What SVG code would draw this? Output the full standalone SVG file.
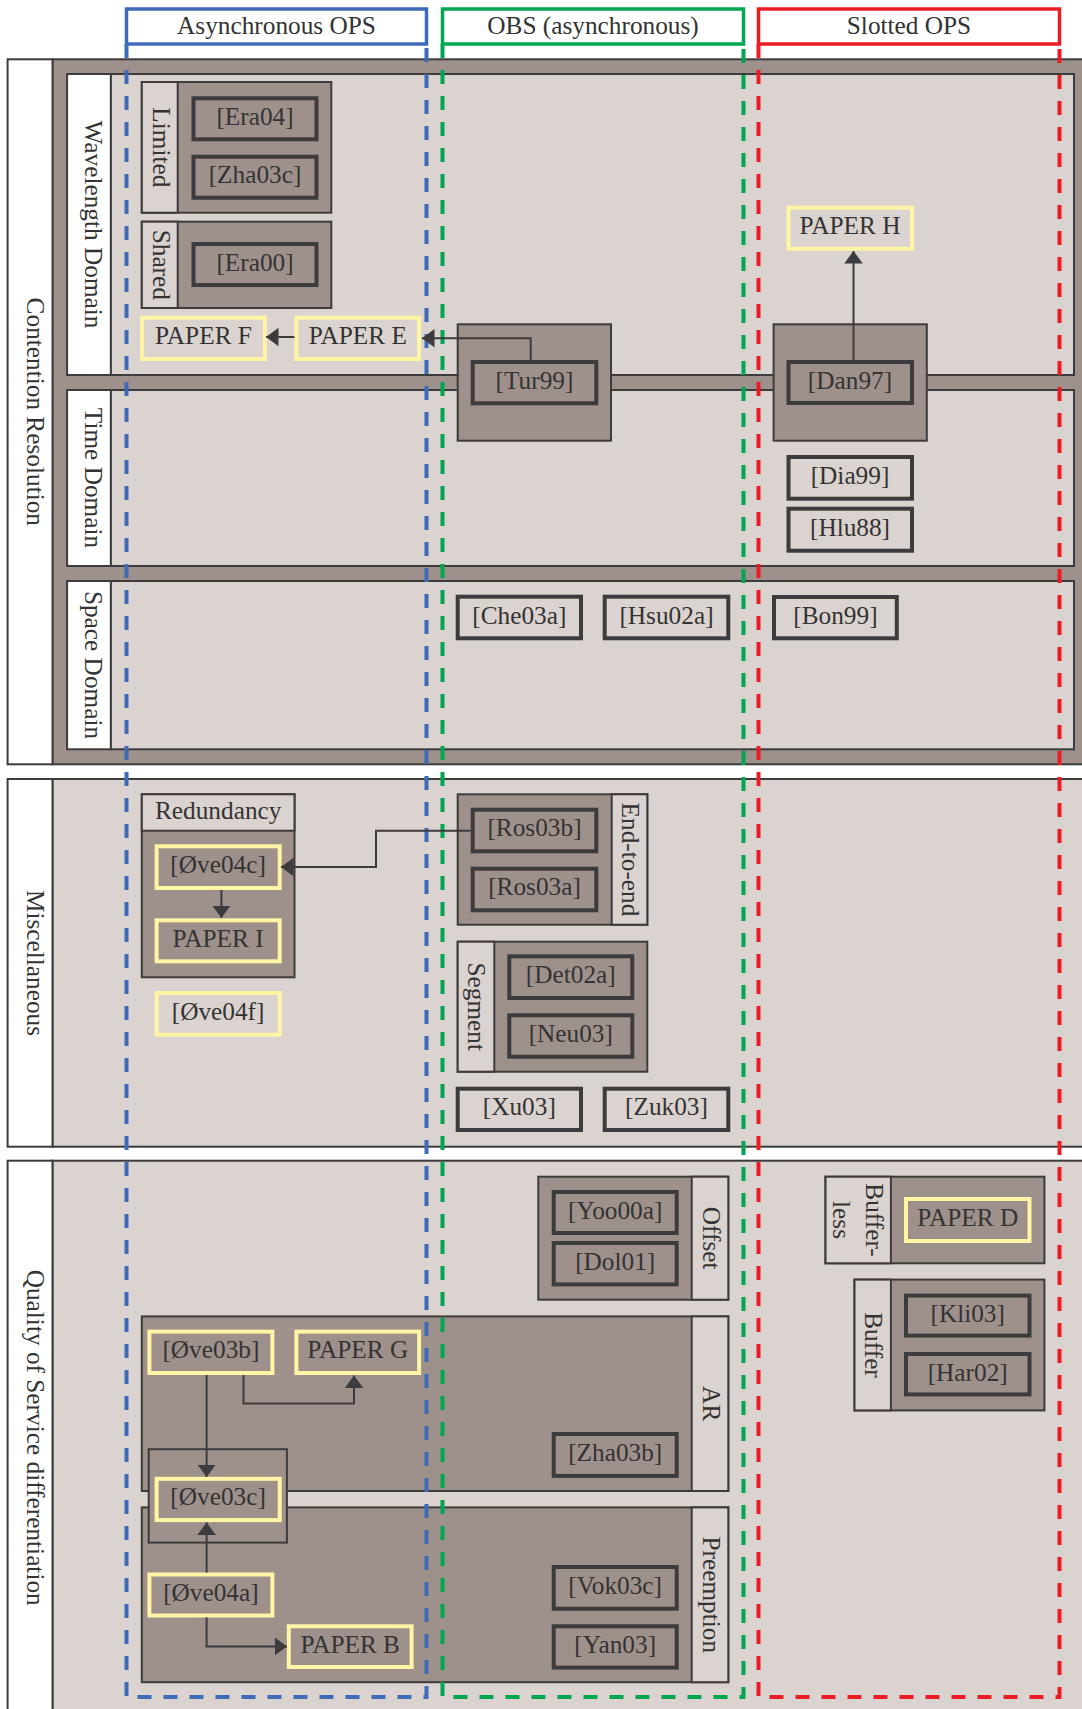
<svg xmlns="http://www.w3.org/2000/svg" width="1082" height="1709" viewBox="0 0 1082 1709">
  <defs>
    <style>
      .t{font-family:"Liberation Serif","Times New Roman",serif;font-size:25.3px;fill:#333;text-anchor:middle}
      .dark{fill:#9e918c;stroke:#3c3b3d;stroke-width:2}
      .pale{fill:#dbd3d0;stroke:#3c3b3d;stroke-width:2}
      .white{fill:#fff;stroke:#3c3b3d;stroke-width:2}
      .ref-d{fill:#9e918c;stroke:#3c3b3d;stroke-width:4}
      .ref-l{fill:#dbd3d0;stroke:#3c3b3d;stroke-width:4}
      .pap-d{fill:#9e918c;stroke:#fff5a5;stroke-width:4}
      .pap-l{fill:#dbd3d0;stroke:#fff5a5;stroke-width:4}
      .conn{fill:none;stroke:#3c3b3d;stroke-width:2;marker-end:url(#ah)}
      .col{fill:none;stroke-width:4;stroke-dasharray:14 12}
      .hdr{fill:#fff;stroke-width:3.5}
    </style>
    <marker id="ah" markerUnits="userSpaceOnUse" markerWidth="13" markerHeight="19" refX="12.5" refY="9.25" orient="auto">
      <path d="M0,0 L12.5,9.25 L0,18.5 z" fill="#3c3b3d"/>
    </marker>
  </defs>
  <rect width="1082" height="1709" fill="#fff"/>

  <!-- Contention Resolution band -->
  <g id="contention-resolution">
    <rect class="white" x="7.6" y="59.3" width="45.1" height="705"/>
    <rect class="dark" x="52.7" y="59.3" width="1040" height="705"/>
    <text class="t" transform="translate(35.5,411.8) rotate(90)" dy="0.35em">Contention Resolution</text>
  </g>
  <g id="wavelength-domain">
    <rect class="white" x="67.1" y="74" width="43.8" height="301"/>
    <rect class="pale" x="110.9" y="74" width="963.1" height="301"/>
    <text class="t" transform="translate(94,224.5) rotate(90)" dy="0.35em">Wavelength Domain</text>
  </g>
  <g id="time-domain">
    <rect class="white" x="67.1" y="390" width="43.8" height="176"/>
    <rect class="pale" x="110.9" y="390" width="963.1" height="176"/>
    <text class="t" transform="translate(94,478) rotate(90)" dy="0.35em">Time Domain</text>
  </g>
  <g id="space-domain">
    <rect class="white" x="67.1" y="581" width="43.8" height="168.3"/>
    <rect class="pale" x="110.9" y="581" width="963.1" height="168.3"/>
    <text class="t" transform="translate(94,665) rotate(90)" dy="0.35em">Space Domain</text>
  </g>

  <!-- Miscellaneous band -->
  <g id="miscellaneous">
    <rect class="white" x="7.6" y="779" width="45.1" height="367.7"/>
    <rect class="pale" x="52.7" y="779" width="1040" height="367.7"/>
    <text class="t" transform="translate(35.5,963) rotate(90)" dy="0.35em">Miscellaneous</text>
  </g>

  <!-- Quality of Service band -->
  <g id="qos-differentiation">
    <rect class="white" x="7.6" y="1160.7" width="45.1" height="560"/>
    <rect class="pale" x="52.7" y="1160.7" width="1040" height="560"/>
    <text class="t" transform="translate(35.5,1437.7) rotate(90)" dy="0.35em">Quality of Service differentiation</text>
  </g>

  <!-- Wavelength domain groups -->
  <g id="limited">
    <rect class="dark" x="141.8" y="82" width="189.5" height="130.7"/>
    <rect class="pale" x="141.8" y="82" width="35.9" height="130.7"/>
    <text class="t" transform="translate(161.5,147.3) rotate(90)" dy="0.35em">Limited</text>
  </g>
  <g id="shared">
    <rect class="dark" x="141.8" y="221.7" width="189.5" height="86.3"/>
    <rect class="pale" x="141.8" y="221.7" width="35.9" height="86.3"/>
    <text class="t" transform="translate(161.5,264.8) rotate(90)" dy="0.35em">Shared</text>
  </g>
  <g id="era04"><rect class="ref-d" x="193.5" y="98.3" width="123" height="41"/><text class="t" x="255" y="124.8">[Era04]</text></g>
  <g id="zha03c"><rect class="ref-d" x="193.5" y="156.7" width="123" height="41"/><text class="t" x="255" y="183.2">[Zha03c]</text></g>
  <g id="era00"><rect class="ref-d" x="193.5" y="244" width="123" height="41"/><text class="t" x="255" y="270.5">[Era00]</text></g>
  <g id="paper-f"><rect class="pap-l" x="142.2" y="317.7" width="122.7" height="41.3"/><text class="t" x="203.5" y="343.5">PAPER F</text></g>
  <g id="paper-e"><rect class="pap-l" x="296.4" y="317.7" width="122.7" height="41.3"/><text class="t" x="357.8" y="343.5">PAPER E</text></g>
  <g id="paper-h"><rect class="pap-l" x="788.5" y="207.7" width="123.5" height="41"/><text class="t" x="850" y="233.5">PAPER H</text></g>

  <g id="tur99">
    <rect class="dark" x="457.7" y="324.3" width="153.3" height="116.4"/>
    <rect class="ref-d" x="472.7" y="362" width="123.6" height="41.3"/>
    <text class="t" x="534.5" y="388.5">[Tur99]</text>
  </g>
  <g id="dan97">
    <rect class="dark" x="773.6" y="324.3" width="153.2" height="116.4"/>
    <rect class="ref-d" x="788.5" y="362" width="123.5" height="41"/>
    <text class="t" x="850" y="388.5">[Dan97]</text>
  </g>

  <!-- Time and space domain references -->
  <g id="dia99"><rect class="ref-l" x="788.5" y="457" width="123.5" height="41.7"/><text class="t" x="850" y="483.5">[Dia99]</text></g>
  <g id="hlu88"><rect class="ref-l" x="788.5" y="508.7" width="123.5" height="42"/><text class="t" x="850" y="535.5">[Hlu88]</text></g>
  <g id="che03a"><rect class="ref-l" x="457.7" y="596.7" width="123.3" height="41.6"/><text class="t" x="519.3" y="623.5">[Che03a]</text></g>
  <g id="hsu02a"><rect class="ref-l" x="604.7" y="596.7" width="123.6" height="41.6"/><text class="t" x="666.5" y="623.5">[Hsu02a]</text></g>
  <g id="bon99"><rect class="ref-l" x="774" y="597" width="122.8" height="41.3"/><text class="t" x="835.4" y="623.5">[Bon99]</text></g>

  <!-- Miscellaneous groups -->
  <g id="redundancy">
    <rect class="dark" x="141.8" y="794.3" width="152.7" height="183"/>
    <rect class="pale" x="141.8" y="794.3" width="152.7" height="36.4"/>
    <text class="t" x="218.2" y="819">Redundancy</text>
  </g>
  <g id="ove04c"><rect class="pap-d" x="156.6" y="846.3" width="123.1" height="41.7"/><text class="t" x="218.1" y="872.8">[Øve04c]</text></g>
  <g id="paper-i"><rect class="pap-d" x="156.6" y="920.3" width="123.1" height="41"/><text class="t" x="218.1" y="946.8">PAPER I</text></g>
  <g id="ove04f"><rect class="pap-l" x="156.6" y="993" width="123.1" height="41.7"/><text class="t" x="218.1" y="1019.5">[Øve04f]</text></g>

  <g id="end-to-end">
    <rect class="dark" x="457.7" y="794.3" width="189.6" height="130.4"/>
    <rect class="pale" x="611.7" y="794.3" width="35.6" height="130.4"/>
    <text class="t" transform="translate(631,859.5) rotate(90)" dy="0.35em">End-to-end</text>
  </g>
  <g id="ros03b"><rect class="ref-d" x="472.7" y="809.7" width="123.6" height="41.6"/><text class="t" x="534.5" y="836.2">[Ros03b]</text></g>
  <g id="ros03a"><rect class="ref-d" x="472.7" y="868.7" width="123.6" height="41.6"/><text class="t" x="534.5" y="895.2">[Ros03a]</text></g>

  <g id="segment">
    <rect class="dark" x="457.7" y="941.7" width="189.6" height="130"/>
    <rect class="pale" x="457.7" y="941.7" width="36.6" height="130"/>
    <text class="t" transform="translate(477,1006.7) rotate(90)" dy="0.35em">Segment</text>
  </g>
  <g id="det02a"><rect class="ref-d" x="509.3" y="956.3" width="123" height="41.7"/><text class="t" x="570.8" y="982.8">[Det02a]</text></g>
  <g id="neu03"><rect class="ref-d" x="509.3" y="1015.3" width="123" height="41.4"/><text class="t" x="570.8" y="1041.8">[Neu03]</text></g>
  <g id="xu03"><rect class="ref-l" x="457.7" y="1088.7" width="123.3" height="41.3"/><text class="t" x="519.3" y="1115.2">[Xu03]</text></g>
  <g id="zuk03"><rect class="ref-l" x="604.7" y="1088.7" width="123.6" height="41.3"/><text class="t" x="666.5" y="1115.2">[Zuk03]</text></g>

  <!-- QoS groups -->
  <g id="offset">
    <rect class="dark" x="538.3" y="1176.7" width="190" height="123"/>
    <rect class="pale" x="691.7" y="1176.7" width="36.6" height="123"/>
    <text class="t" transform="translate(711.5,1238.2) rotate(90)" dy="0.35em">Offset</text>
  </g>
  <g id="yoo00a"><rect class="ref-d" x="553.7" y="1192" width="123" height="41"/><text class="t" x="615.2" y="1218.5">[Yoo00a]</text></g>
  <g id="dol01"><rect class="ref-d" x="553.7" y="1243" width="123" height="41.4"/><text class="t" x="615.2" y="1269.5">[Dol01]</text></g>

  <g id="ar">
    <rect class="dark" x="141.8" y="1316.4" width="586.5" height="174.6"/>
    <rect class="pale" x="691.7" y="1316.4" width="36.6" height="174.6"/>
    <text class="t" transform="translate(711.5,1403.7) rotate(90)" dy="0.35em">AR</text>
  </g>
  <g id="preemption">
    <rect class="dark" x="141.8" y="1507.4" width="586.5" height="174.8"/>
    <rect class="pale" x="691.7" y="1507.4" width="36.6" height="174.8"/>
    <text class="t" transform="translate(711.5,1594.8) rotate(90)" dy="0.35em">Preemption</text>
  </g>
  <g id="zha03b"><rect class="ref-d" x="553.7" y="1434" width="123" height="41.9"/><text class="t" x="615.2" y="1460.5">[Zha03b]</text></g>
  <g id="vok03c"><rect class="ref-d" x="553.7" y="1567" width="123" height="41.7"/><text class="t" x="615.2" y="1593.5">[Vok03c]</text></g>
  <g id="yan03"><rect class="ref-d" x="553.7" y="1626.3" width="123" height="41.3"/><text class="t" x="615.2" y="1652.8">[Yan03]</text></g>

  <g id="ove03b"><rect class="pap-d" x="149.4" y="1331.6" width="123" height="41.4"/><text class="t" x="210.9" y="1358.1">[Øve03b]</text></g>
  <g id="paper-g"><rect class="pap-d" x="296.4" y="1331.6" width="122.7" height="41.4"/><text class="t" x="357.8" y="1357.5">PAPER G</text></g>
  <g id="ove03c">
    <rect class="dark" x="148.7" y="1449.2" width="138.2" height="93.4"/>
    <rect class="pap-d" x="156.6" y="1478.8" width="123.1" height="41.3"/>
    <text class="t" x="218.1" y="1505.3">[Øve03c]</text>
  </g>
  <g id="ove04a"><rect class="pap-d" x="149.4" y="1574.5" width="123" height="41"/><text class="t" x="210.9" y="1601">[Øve04a]</text></g>
  <g id="paper-b"><rect class="pap-d" x="288.8" y="1626.3" width="122.8" height="40.7"/><text class="t" x="350.2" y="1652.5">PAPER B</text></g>

  <g id="bufferless">
    <rect class="dark" x="825.5" y="1176.7" width="218.9" height="86.6"/>
    <rect class="pale" x="825.5" y="1176.7" width="65.4" height="86.6"/>
    <text class="t" transform="translate(875,1220) rotate(90)" dy="0.35em">Buffer-</text>
    <text class="t" transform="translate(842,1220) rotate(90)" dy="0.35em">less</text>
  </g>
  <g id="paper-d"><rect class="pap-d" x="906" y="1199" width="123.5" height="42"/><text class="t" x="967.7" y="1225.5">PAPER D</text></g>
  <g id="buffer">
    <rect class="dark" x="854.5" y="1279.6" width="189.9" height="130.8"/>
    <rect class="pale" x="854.5" y="1279.6" width="36.4" height="130.8"/>
    <text class="t" transform="translate(874,1345) rotate(90)" dy="0.35em">Buffer</text>
  </g>
  <g id="kli03"><rect class="ref-d" x="906" y="1295.6" width="123.5" height="40"/><text class="t" x="967.7" y="1322">[Kli03]</text></g>
  <g id="har02"><rect class="ref-d" x="906" y="1354" width="123.5" height="40.4"/><text class="t" x="967.7" y="1380.5">[Har02]</text></g>

  <!-- Technology columns: heading boxes and dashed outlines -->
  <g id="col-async-ops">
    <rect class="hdr" stroke="#3d6bb8" x="126.5" y="9" width="300" height="35"/>
    <text class="t" x="276.5" y="33.5">Asynchronous OPS</text>
    <path class="col" stroke="#3d6bb8" d="M126.5,44 V1697 H426.5 V44"/>
  </g>
  <g id="col-obs">
    <rect class="hdr" stroke="#00a650" x="442.5" y="9" width="301" height="35"/>
    <text class="t" x="593" y="33.5">OBS (asynchronous)</text>
    <path class="col" stroke="#00a650" d="M442.5,44 V1697 H743.5 V44"/>
  </g>
  <g id="col-slotted-ops">
    <rect class="hdr" stroke="#ec1c24" x="758.5" y="9" width="301" height="35"/>
    <text class="t" x="909" y="33.5">Slotted OPS</text>
    <path class="col" stroke="#ec1c24" d="M758.5,44 V1697 H1059.5 V44"/>
  </g>

  <!-- Connectors -->
  <g id="connectors">
    <path class="conn" d="M530.7,362 V338.3 H422"/>
    <path class="conn" d="M294.4,337 H266"/>
    <path class="conn" d="M853.5,362 V251"/>
    <path class="conn" d="M470.7,830.7 H376 V867 H281"/>
    <path class="conn" d="M221.4,890 V918"/>
    <path class="conn" d="M243.5,1375 V1403.6 H354 V1375.5"/>
    <path class="conn" d="M206.6,1375 V1477"/>
    <path class="conn" d="M206.6,1572.5 V1522.5"/>
    <path class="conn" d="M206.6,1617.5 V1646.4 H287"/>
  </g>
</svg>
